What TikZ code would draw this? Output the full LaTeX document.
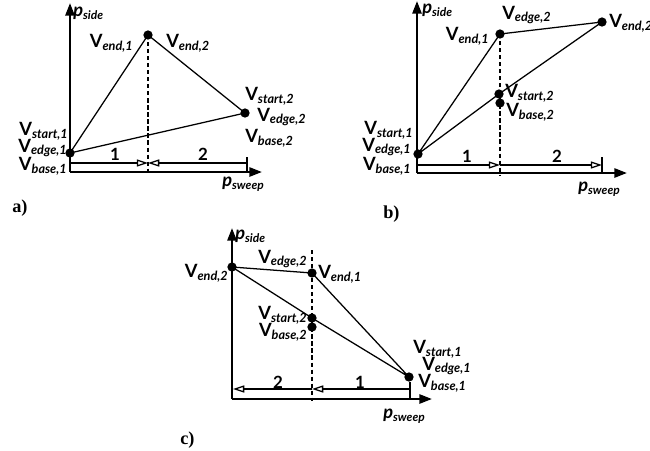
\documentclass[tikz,border=0pt]{standalone}
\usepackage{fontspec}
\setmainfont{Liberation Serif}
\newfontfamily\lblfont{Lato}
\usetikzlibrary{arrows.meta}
\newcommand{\vl}[1]{{\lblfont\bfseries V\raisebox{-2.1pt}{\fontsize{9}{10}\selectfont\itshape #1}}}
\newcommand{\pl}[1]{{\lblfont\bfseries\itshape p\raisebox{-2pt}{\fontsize{8.5}{10}\selectfont #1}}}
\begin{document}
\begin{tikzpicture}[x=0.025cm, y=-0.025cm,
    axis/.style={line width=1.6pt, -{Triangle[length=9pt,width=6.5pt]}},
    edge/.style={line width=0.9pt},
    guide/.style={line width=0.9pt, dash pattern=on 3pt off 2pt},
    dim/.style={line width=0.9pt, -{Triangle[open,length=8pt,width=5pt]}},
    endtick/.style={line width=0.8pt},
    lbl/.style={inner sep=0pt, font=\fontsize{13}{14}\selectfont},
    num/.style={inner sep=0pt, font=\lblfont\bfseries\fontsize{12}{13}\selectfont},
    panelcap/.style={inner sep=0pt, font=\bfseries\fontsize{13}{15}\selectfont}]
    \useasboundingbox (0,0) rectangle (650,450);

    % 1. Panel a): axes and points
    \coordinate (a0) at (70,172);
    \coordinate (ay) at (70,3);
    \coordinate (ax) at (262,172);
    \coordinate (as1) at (70,153);
    \coordinate (ae1) at (148,35);
    \coordinate (as2) at (245,113);
    \coordinate (afoot) at (148,174);
    \coordinate (am0) at (70,163);
    \coordinate (am1) at (148,163);
    \coordinate (am2) at (247,163);
    \coordinate (atop) at (247,157);
    \coordinate (abot) at (247,172);

    \draw[axis] (a0) -- (ay);
    \draw[axis] (a0) -- (ax);
    \draw[edge] (as1) -- (ae1) -- (as2) -- cycle;
    \draw[guide] (ae1) -- (afoot);
    \draw[dim] (am0) -- (am1);
    \draw[dim] (am2) -- (am1);
    \draw[endtick] (atop) -- (abot);
    \fill (as1) circle (3.3pt);
    \fill (ae1) circle (3.3pt);
    \fill (as2) circle (3.3pt);

    \node[lbl, anchor=west] (apside) at (73,13) {\pl{side}};
    \node[lbl, anchor=west] (apsweep) at (222,184) {\pl{sweep}};
    \node[lbl, anchor=east] (aend1) at (133,43) {\vl{end,1}};
    \node[lbl, anchor=west] (aend2) at (166,43) {\vl{end,2}};
    \node[lbl, anchor=west] (astart2) at (245,96) {\vl{start,2}};
    \node[lbl, anchor=west] (aedge2) at (257,117) {\vl{edge,2}};
    \node[lbl, anchor=west] (abase2) at (245,138) {\vl{base,2}};
    \node[lbl, anchor=east] (astart1) at (68,131) {\vl{start,1}};
    \node[lbl, anchor=east] (aedge1) at (67,148) {\vl{edge,1}};
    \node[lbl, anchor=east] (abase1) at (67,166) {\vl{base,1}};
    \node[num] (aone) at (115,154) {1};
    \node[num] (atwo) at (203,154) {2};
    \node[panelcap, anchor=west] (acap) at (12,208) {a)};

    % 2. Panel b): axes and points
    \coordinate (b0) at (417,173);
    \coordinate (by) at (417,1);
    \coordinate (bx) at (627,173);
    \coordinate (bs1) at (418,154);
    \coordinate (be1) at (500,34);
    \coordinate (bend2) at (602,22);
    \coordinate (bs2) at (499,94);
    \coordinate (bb2) at (500,103);
    \coordinate (bfoot) at (500,175);
    \coordinate (bm0) at (418,165);
    \coordinate (bm1) at (500,165);
    \coordinate (bm2) at (602,165);
    \coordinate (btop) at (602,157);
    \coordinate (bbot) at (602,172);

    \draw[axis] (b0) -- (by);
    \draw[axis] (b0) -- (bx);
    \draw[edge] (bs1) -- (be1) -- (bend2) -- (bs2) -- cycle;
    \draw[guide] (be1) -- (bfoot);
    \draw[dim] (bm0) -- (bm1);
    \draw[dim] (bm1) -- (bm2);
    \draw[endtick] (btop) -- (bbot);
    \fill (bs1) circle (3.3pt);
    \fill (be1) circle (3.3pt);
    \fill (bend2) circle (3.3pt);
    \fill (bb2) circle (3.3pt);
    \fill (bs2) circle (3.3pt);

    \node[lbl, anchor=west] (bpside) at (422,10) {\pl{side}};
    \node[lbl, anchor=west] (bpsweep) at (578,189) {\pl{sweep}};
    \node[lbl, anchor=west] (bedge2) at (502,15) {\vl{edge,2}};
    \node[lbl, anchor=east] (bend1) at (489,36) {\vl{end,1}};
    \node[lbl, anchor=west] (blend2) at (609,23) {\vl{end,2}};
    \node[lbl, anchor=west] (bstart2) at (505,93) {\vl{start,2}};
    \node[lbl, anchor=west] (bbase2) at (506,112) {\vl{base,2}};
    \node[lbl, anchor=east] (bstart1) at (413,130) {\vl{start,1}};
    \node[lbl, anchor=east] (bedge1) at (411,147) {\vl{edge,1}};
    \node[lbl, anchor=east] (bbase1) at (411,166) {\vl{base,1}};
    \node[num] (bone) at (467,156) {1};
    \node[num] (btwo) at (557,156) {2};
    \node[panelcap, anchor=west] (bcap) at (383,214) {b)};

    % 3. Panel c): axes and points
    \coordinate (c0) at (232,399);
    \coordinate (cy) at (232,228);
    \coordinate (cx) at (432,399);
    \coordinate (cend2) at (232,267);
    \coordinate (ce1) at (312,273);
    \coordinate (cs1) at (409,377);
    \coordinate (cs2) at (312,318);
    \coordinate (cb2) at (312,327);
    \coordinate (chead) at (312,250);
    \coordinate (cfoot) at (312,401);
    \coordinate (cm0) at (410,389);
    \coordinate (cm1) at (312,389);
    \coordinate (cm2) at (233,389);
    \coordinate (ctop) at (410,382);
    \coordinate (cbot) at (410,399);

    \draw[axis] (c0) -- (cy);
    \draw[axis] (c0) -- (cx);
    \draw[edge] (cend2) -- (ce1) -- (cs1) -- (cs2) -- cycle;
    \draw[guide] (chead) -- (cfoot);
    \draw[dim] (cm0) -- (cm1);
    \draw[dim] (cm1) -- (cm2);
    \draw[endtick] (ctop) -- (cbot);
    \fill (cend2) circle (3.3pt);
    \fill (ce1) circle (3.3pt);
    \fill (cs1) circle (3.3pt);
    \fill (cb2) circle (3.3pt);
    \fill (cs2) circle (3.3pt);

    \node[lbl, anchor=west] (cpside) at (235,236) {\pl{side}};
    \node[lbl, anchor=west] (cpsweep) at (383,416) {\pl{sweep}};
    \node[lbl, anchor=west] (cedge2) at (258,259) {\vl{edge,2}};
    \node[lbl, anchor=west] (cend1) at (318,274) {\vl{end,1}};
    \node[lbl, anchor=east] (clend2) at (228,273) {\vl{end,2}};
    \node[lbl, anchor=east] (cstart2) at (307,315) {\vl{start,2}};
    \node[lbl, anchor=east] (cbase2) at (307,332) {\vl{base,2}};
    \node[lbl, anchor=west] (cstart1) at (413,349) {\vl{start,1}};
    \node[lbl, anchor=west] (cedge1) at (422,366) {\vl{edge,1}};
    \node[lbl, anchor=west] (cbase1) at (418,383) {\vl{base,1}};
    \node[num] (cone) at (360,382) {1};
    \node[num] (ctwo) at (278,382) {2};
    \node[panelcap, anchor=west] (ccap) at (180,440) {c)};
\end{tikzpicture}
\end{document}
